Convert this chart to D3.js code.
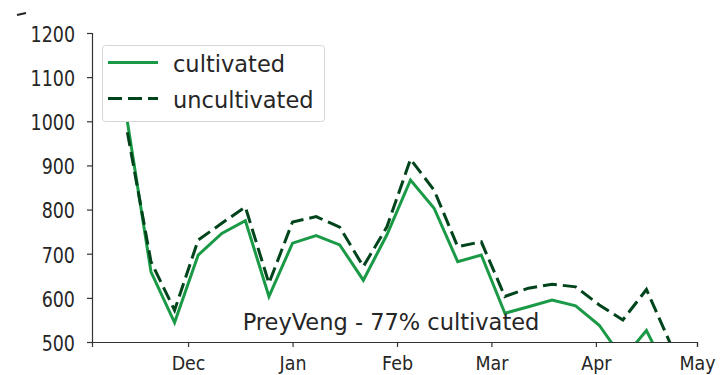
<!DOCTYPE html>
<html>
<head>
<meta charset="utf-8">
<script src="https://cdn.jsdelivr.net/npm/d3@7"></script>
<style>
  html, body { margin: 0; padding: 0; background: #fff; }
  svg { display: block; font-family: "DejaVu Sans", sans-serif; }
</style>
</head>
<body>
<svg id="chart" width="722" height="375"></svg>
<script>
// Weekly observations, PreyVeng
const startDate = new Date(2017, 10, 13);
const weeks = d3.range(24).map(i => d3.timeDay.offset(startDate, i * 7));
const cultivated = [999, 659, 544, 697, 746, 775, 603, 724, 741, 720, 640, 743,
                    867, 803, 682, 697, 565, 580, 595, 582, 538, 462, 526, 420];
const uncultivated = [975, 682, 572, 731, 769, 806, 633, 772, 784, 760, 671, 761,
                      914, 844, 716, 727, 603, 622, 631, 625, 584, 550, 619, 498];
const yTicks = [500, 600, 700, 800, 900, 1000, 1100, 1200];
const seriesNames = ["cultivated", "uncultivated"];
const seriesColors = ["#1a9a46", "#00441b"];
const annotation = "PreyVeng - 77% cultivated";

const svg = d3.select("#chart");
const plotLeft = 92, plotRight = 697, plotTop = 33, plotBottom = 342;

const x = d3.scaleTime()
  .domain([new Date(2017, 10, 2, 12), new Date(2018, 4, 1)])
  .range([plotLeft, plotRight]);
const y = d3.scaleLinear().domain([500, 1200]).range([plotBottom, plotTop]);

// clip the series to the plotting area
svg.append("defs").append("clipPath").attr("id", "plotArea")
  .append("rect").attr("x", plotLeft).attr("y", plotTop)
  .attr("width", plotRight - plotLeft).attr("height", plotBottom - plotTop);

const line = d3.line().x((d, i) => x(weeks[i])).y(d => y(d));

const plot = svg.append("g").attr("clip-path", "url(#plotArea)");
plot.append("path").datum(cultivated)
  .attr("d", line).attr("fill", "none")
  .attr("stroke", seriesColors[0]).attr("stroke-width", 3);
plot.append("path").datum(uncultivated)
  .attr("d", line).attr("fill", "none")
  .attr("stroke", seriesColors[1]).attr("stroke-width", 3)
  .attr("stroke-dasharray", "14,6");

// axes
const xAxis = d3.axisBottom(x)
  .ticks(d3.timeMonth.every(1))
  .tickFormat(d3.timeFormat("%b"))
  .tickSizeOuter(0).tickSize(5);
const gx = svg.append("g").attr("transform", `translate(0,${plotBottom})`).call(xAxis);

const yAxis = d3.axisLeft(y).tickValues(yTicks)
  .tickFormat(d3.format("d"))
  .tickSizeOuter(0).tickSize(5).tickPadding(12);
const gy = svg.append("g").attr("transform", `translate(${plotLeft},0)`).call(yAxis);

[gx, gy].forEach(g => {
  g.selectAll(".domain").attr("stroke", "#333").attr("stroke-width", 1.2);
  g.selectAll(".tick line").attr("stroke", "#333").attr("stroke-width", 1.2);
  g.selectAll(".tick text").attr("fill", "#262626")
    .style("font-family", "DejaVu Sans").style("font-size", "17.5px");
});
// tick labels are drawn slightly tall
gx.selectAll(".tick text")
  .attr("y", 0).attr("dy", 0)
  .attr("transform", "translate(0,28.3) scale(1,1.15)");
gy.selectAll(".tick text")
  .attr("dy", 0)
  .attr("transform", "translate(0,8.3) scale(1,1.2)");

// annotation
svg.append("text")
  .attr("x", 391).attr("y", 330)
  .attr("text-anchor", "middle")
  .attr("fill", "#262626")
  .style("font-size", "22.5px")
  .text(annotation);

// legend
const lg = svg.append("g");
lg.append("rect")
  .attr("x", 102.5).attr("y", 45.5).attr("width", 222).attr("height", 76)
  .attr("rx", 3).attr("fill", "#fff").attr("fill-opacity", 0.85)
  .attr("stroke", "#d6d6d6").attr("stroke-width", 1);
seriesNames.forEach((name, i) => {
  const yy = 62.5 + i * 36;
  lg.append("line")
    .attr("x1", 108).attr("x2", 158).attr("y1", yy).attr("y2", yy)
    .attr("stroke", seriesColors[i]).attr("stroke-width", 3)
    .attr("stroke-dasharray", i === 1 ? "14,6" : null);
  lg.append("text")
    .attr("x", 173).attr("y", yy + 9)
    .attr("fill", "#262626").style("font-size", "22.5px")
    .text(name);
});

// remnant mark at the top-left corner
svg.append("line")
  .attr("x1", 17).attr("y1", 15).attr("x2", 26).attr("y2", 13)
  .attr("stroke", "#222").attr("stroke-width", 2);
</script>
</body>
</html>
